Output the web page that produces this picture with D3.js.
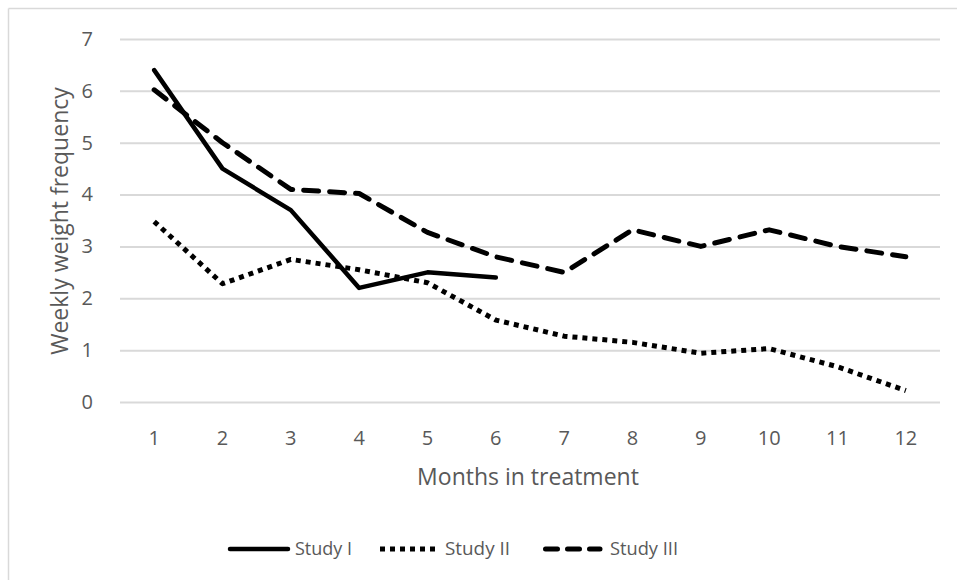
<!DOCTYPE html>
<html>
<head>
<meta charset="utf-8">
<script src="https://cdn.jsdelivr.net/npm/d3@7"></script>
<style>
  body { margin: 0; background: #fff; }
  svg { display: block; }
  text { font-family: "Open Sans", "Noto Sans", sans-serif; fill: #595959; }
</style>
</head>
<body>
<svg id="chart" width="957" height="580"></svg>
<script>
const months = ["1","2","3","4","5","6","7","8","9","10","11","12"];
const yTicks = [0,1,2,3,4,5,6,7];
const studyI   = [6.4, 4.5, 3.7, 2.2, 2.5, 2.4];
const studyII  = [3.48, 2.28, 2.75, 2.55, 2.3, 1.58, 1.27, 1.15, 0.94, 1.03, 0.68, 0.22];
const studyIII = [6.02, 5.0, 4.1, 4.02, 3.27, 2.8, 2.5, 3.32, 3.0, 3.32, 3.0, 2.8];
const seriesNames = ["Study I", "Study II", "Study III"];

const svg = d3.select("#chart");

// chart frame (only top and left edges visible in the crop)
svg.append("line").attr("x1", 8.5).attr("x2", 957).attr("y1", 8.5).attr("y2", 8.5)
  .attr("stroke", "#d9d9d9").attr("stroke-width", 1.5);
svg.append("line").attr("x1", 8.5).attr("x2", 8.5).attr("y1", 8.5).attr("y2", 580)
  .attr("stroke", "#d9d9d9").attr("stroke-width", 1.5);

const x = d3.scaleBand().domain(months).range([120, 940]);
const y = d3.scaleLinear().domain([0, 7]).range([402, 39]);

// gridlines + y tick labels
const yAxis = d3.axisLeft(y).tickValues(yTicks).tickSize(-(940 - 120)).tickPadding(27).tickFormat(d3.format("d"));
const gy = svg.append("g").attr("transform", "translate(120,0)").call(yAxis);
gy.select(".domain").remove();
gy.selectAll(".tick line").attr("stroke", "#d9d9d9").attr("stroke-width", 2);
gy.selectAll(".tick text").attr("font-size", 20).attr("fill", "#595959")
  .attr("font-family", "'Open Sans', sans-serif");

const xAxis = d3.axisBottom(x).tickSize(0).tickPadding(29);
const gx = svg.append("g").attr("transform", "translate(0,402)").call(xAxis);
gx.select(".domain").remove();
gx.selectAll(".tick text").attr("font-size", 20).attr("fill", "#595959")
  .attr("font-family", "'Open Sans', sans-serif");

// titles
svg.append("text").attr("x", 528).attr("y", 485).attr("text-anchor", "middle")
  .attr("font-size", 23).text("Months in treatment");
svg.append("text").attr("transform", "translate(68,221) rotate(-90)").attr("text-anchor", "middle")
  .attr("font-size", 23).text("Weekly weight frequency");

const styles = [
  { data: studyI, dash: null, cap: "round", width: 4.5 },
  { data: studyII, dash: "5,5", cap: "butt", width: 5 },
  { data: studyIII, dash: "15,11", cap: "round", width: 5 }
];

const line = d3.line()
  .x((d, i) => x(months[i]) + x.bandwidth() / 2)
  .y(d => y(d));

[2, 1, 0].forEach(k => {
  const s = styles[k];
  svg.append("path").datum(s.data)
    .attr("d", line)
    .attr("fill", "none")
    .attr("stroke", "#000")
    .attr("stroke-width", s.width)
    .attr("stroke-linejoin", "round")
    .attr("stroke-linecap", s.cap)
    .attr("stroke-dasharray", s.dash);
});

// legend
const legendItems = [
  { x1: 230, x2: 288, tx: 295, tw: 57, dash: null },
  { x1: 380, x2: 436, tx: 445, tw: 65, dash: "5,5" },
  { x1: 545.5, x2: 600, tx: 610, tw: 68, dash: "12,10" }
];
legendItems.forEach((it, k) => {
  const s = styles[k];
  svg.append("line").attr("x1", it.x1).attr("x2", it.x2).attr("y1", 549).attr("y2", 549)
    .attr("stroke", "#000").attr("stroke-width", s.width)
    .attr("stroke-linecap", s.cap)
    .attr("stroke-dasharray", it.dash);
  svg.append("text").attr("x", it.tx).attr("y", 555).attr("font-size", 19)
    .attr("textLength", it.tw).attr("lengthAdjust", "spacingAndGlyphs")
    .text(seriesNames[k]);
});
</script>
</body>
</html>
